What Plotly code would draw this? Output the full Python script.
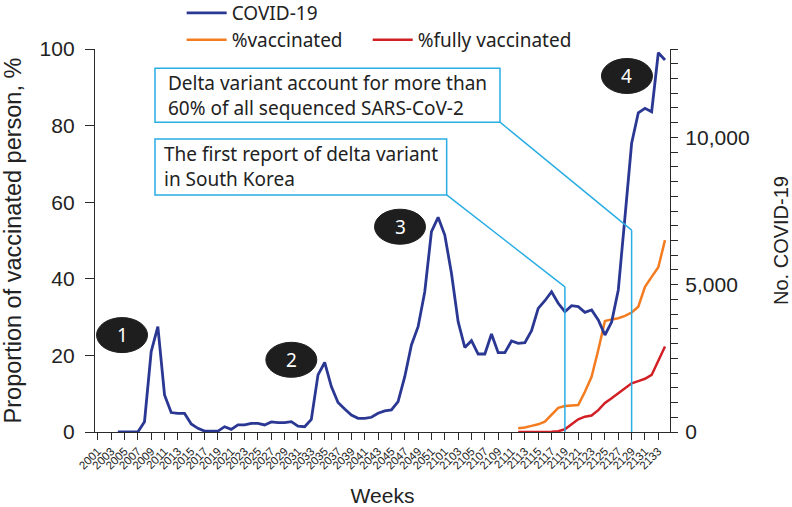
import plotly.graph_objects as go

# ---------------- data ----------------
weeks = [f"20{n:02d}" for n in range(1, 53)] + [f"21{n:02d}" for n in range(1, 35)]
tick_weeks = weeks[::2]

covid_cases = [None, None, None,
               0, 0, 0, 0, 350, 2730, 3580, 1260, 660, 630, 630, 270, 125, 30, 30, 30,
               180, 90, 240, 240, 295, 295, 240, 340, 320, 320, 350, 200, 180, 430,
               1940, 2360, 1540, 1000, 780, 577, 465, 465, 500, 635, 713, 747, 1028,
               1877, 2953, 3574, 4762, 6798, 7287, 6686, 5386, 3744, 2868, 3099, 2647,
               2647, 3326, 2691, 2691, 3088, 3010, 3031, 3438, 4198, 4456, 4762, 4368,
               4083, 4287, 4253, 4063, 4140, 3801, 3292, 3733, 4820, 7297, 9799, 10837,
               10987, 10871, 12873, 12626]

vacc_start_week = "2112"
pct_vaccinated = [1.0, 1.2, 1.6, 2.0, 2.7, 4.4, 6.3, 6.8, 7.0, 7.05, 10.5, 14.4, 21.4,
                  29.0, 29.4, 29.7, 30.3, 31.2, 32.7, 37.9, 40.5, 43.0, 50.1]
pct_fully = [0, 0, 0, 0, 0.02, 0.05, 0.2, 0.7, 2.0, 3.3, 4.0, 4.3, 5.7, 7.6, 8.8,
             10.1, 11.4, 12.7, 13.3, 13.9, 14.9, 18.4, 22.3]

vacc_weeks = weeks[weeks.index(vacc_start_week):]

first_report_week = "2119"
delta60_week = "2129"

BLUE = "#2b3893"
ORANGE = "#f47c20"
RED = "#d21f26"
CYAN = "#29ade3"
AX = "#2a2a2a"

fig = go.Figure()
fig.add_trace(go.Scatter(x=weeks, y=covid_cases, name="COVID-19", mode="lines",
                         line=dict(color=BLUE, width=2.8), yaxis="y2", legend="legend"))
fig.add_trace(go.Scatter(x=vacc_weeks, y=pct_vaccinated, name="%vaccinated", mode="lines",
                         line=dict(color=ORANGE, width=2.5), legend="legend2"))
fig.add_trace(go.Scatter(x=vacc_weeks, y=pct_fully, name="%fully vaccinated", mode="lines",
                         line=dict(color=RED, width=2.5), legend="legend3"))

shapes = []
annotations = []

box1 = dict(x0=8.57, x1=60.27, y0=80.9, y1=95.0)
box2 = dict(x0=8.57, x1=52.28, y0=61.9, y1=76.5)
for b in (box1, box2):
    shapes.append(dict(type="rect", xref="x", yref="y", **b,
                       line=dict(color=CYAN, width=1.5), fillcolor="white", layer="above"))

i1 = weeks.index(delta60_week)
i2 = weeks.index(first_report_week)
shapes += [
    dict(type="line", xref="x", yref="y", x0=box1["x1"], y0=box1["y0"], x1=i1, y1=52.7,
         line=dict(color=CYAN, width=1.5)),
    dict(type="line", xref="x", yref="y", x0=i1, y0=52.7, x1=i1, y1=0,
         line=dict(color=CYAN, width=1.5)),
    dict(type="line", xref="x", yref="y", x0=box2["x1"], y0=box2["y0"], x1=i2, y1=37.9,
         line=dict(color=CYAN, width=1.5)),
    dict(type="line", xref="x", yref="y", x0=i2, y0=37.9, x1=i2, y1=0,
         line=dict(color=CYAN, width=1.5)),
]

annotations.append(dict(xref="x", yref="y", x=(box1["x0"] + box1["x1"]) / 2,
                        y=(box1["y0"] + box1["y1"]) / 2, xanchor="center", yanchor="middle",
                        align="left", showarrow=False,
                        text="Delta variant account for more than<br>60% of all sequenced SARS-CoV-2",
                        font=dict(family="Noto Sans", size=19, color="#222")))
annotations.append(dict(xref="x", yref="y", x=(box2["x0"] + box2["x1"]) / 2,
                        y=(box2["y0"] + box2["y1"]) / 2, xanchor="center", yanchor="middle",
                        align="left", showarrow=False,
                        text="The first report of delta variant<br>in South Korea",
                        font=dict(family="Noto Sans", size=19, color="#222")))

badge_labels = ["1", "2", "3", "4"]
badge_x = [3.63, 29.0, 45.29, 79.3]
badge_y = [25.3, 18.85, 53.6, 92.95]
rx, ry = 3.82, 4.57
for lab, bx, by in zip(badge_labels, badge_x, badge_y):
    shapes.append(dict(type="circle", xref="x", yref="y", x0=bx - rx, x1=bx + rx,
                       y0=by - ry, y1=by + ry, fillcolor="#1e1e1e",
                       line=dict(color="#1e1e1e", width=1), layer="above"))
    annotations.append(dict(xref="x", yref="y", x=bx, y=by, text=lab, showarrow=False,
                            font=dict(family="Noto Sans", size=19, color="white")))

legend_font = dict(family="Noto Sans", size=19, color="#222")

fig.update_layout(
    width=792, height=507,
    margin=dict(l=95, r=122, t=49, b=75, autoexpand=False),
    paper_bgcolor="white", plot_bgcolor="white",
    font=dict(family="Liberation Sans", color="#222"),
    showlegend=True,
    shapes=shapes, annotations=annotations,
    xaxis=dict(type="category", categoryorder="array", categoryarray=weeks,
               range=[-0.42, 85.75], tickmode="array", tickvals=tick_weeks,
               ticktext=tick_weeks, tickangle=-45, ticks="outside", ticklen=7,
               tickcolor=AX, showline=True, linecolor=AX, linewidth=1.3,
               showgrid=False, zeroline=False,
               tickfont=dict(size=11.5, family="Liberation Sans", color="#222"),
               title=dict(text="Weeks", font=dict(size=21, family="Liberation Sans"),
                          standoff=17)),
    yaxis=dict(range=[0, 100], tickvals=[0, 20, 40, 60, 80, 100], ticks="outside",
               ticklen=9, tickcolor=AX, showline=True, linecolor=AX, linewidth=1.3,
               showgrid=False, zeroline=False, ticklabelstandoff=6,
               tickfont=dict(size=21, family="Liberation Sans", color="#222"),
               title=dict(text="Proportion of vaccinated person, %",
                          font=dict(size=23.5, family="Liberation Sans"), standoff=14)),
    yaxis2=dict(range=[0, 13000], overlaying="y", side="right", tickvals=[0, 5000, 10000],
                tickformat=",", ticks="outside", ticklen=7, tickcolor=AX, ticklabelstandoff=3,
                minor=dict(dtick=500, ticks="outside", ticklen=7, tickcolor=AX, showgrid=False),
                showline=True, linecolor=AX, linewidth=1.3, showgrid=False, zeroline=False,
                tickfont=dict(size=21, family="Liberation Sans", color="#222"),
                title=dict(text="No. COVID-19", font=dict(size=20, family="Liberation Sans"),
                           standoff=28)),
    legend=dict(x=0.1507, xanchor="left", y=1.094, yanchor="middle", orientation="h",
                itemwidth=40, font=legend_font, bgcolor="rgba(0,0,0,0)"),
    legend2=dict(x=0.1507, xanchor="left", y=1.0235, yanchor="middle", orientation="h",
                 itemwidth=40, font=legend_font, bgcolor="rgba(0,0,0,0)"),
    legend3=dict(x=0.4743, xanchor="left", y=1.0235, yanchor="middle", orientation="h",
                 itemwidth=40, font=legend_font, bgcolor="rgba(0,0,0,0)"),
)

fig.write_html("out.html", config={"displayModeBar": False},
               post_script="document.body.style.margin='0';")
